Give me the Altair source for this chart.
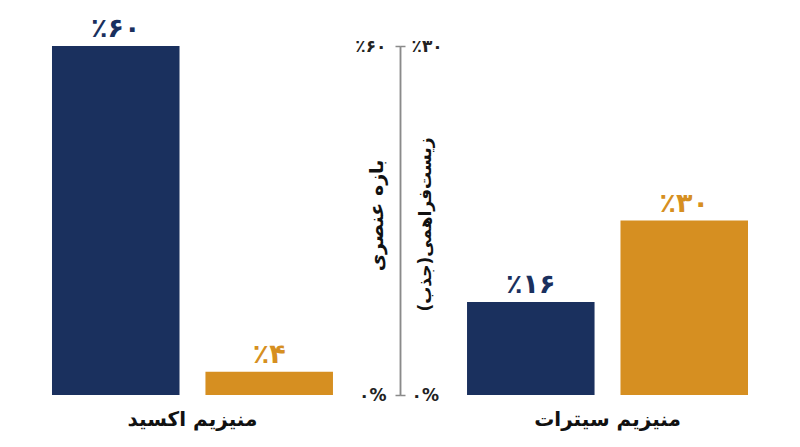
import altair as alt
import pandas as pd

# ---- data ----
groups = ["منیزیم اکسید", "منیزیم سیترات"]
series = ["بازه عنصری", "زیست‌فراهمی(جذب)"]
elemental = [60, 16]
bioavail = [4, 30]
colors = ["#1a305e", "#d68f21"]

FA = str.maketrans("0123456789", "۰۱۲۳۴۵۶۷۸۹")

def fa_pct(v):
    return "٪" + str(v).translate(FA)

rows = []
for g, e, b in zip(groups, elemental, bioavail):
    rows.append({"group": g, "series": series[0], "value": e, "label": fa_pct(e)})
    rows.append({"group": g, "series": series[1], "value": b, "label": fa_pct(b)})
df = pd.DataFrame(rows)

FONT = "DejaVu Sans"
W, H = 784, 349
MID = W / 2

x_enc = alt.X("group:N", sort=groups,
              scale=alt.Scale(paddingInner=0.323, paddingOuter=0.106),
              axis=alt.Axis(title=None, domain=False, ticks=False, labelAngle=0,
                            labelFontSize=20, labelFontWeight="bold", labelColor="#111111",
                            labelFont=FONT, labelPadding=14))
xoff = alt.XOffset("series:N", sort=series,
                   scale=alt.Scale(paddingInner=0.169, paddingOuter=0))
color = alt.Color("series:N", sort=series,
                  scale=alt.Scale(domain=series, range=colors), legend=None)

yscale = alt.Scale(domain=[0, 60], nice=False)

left_axis = alt.Axis(
    orient="left", offset=-MID, values=[0, 60], grid=False,
    labelExpr="datum.value == 60 ? '٪۶۰' : '۰%'",
    labelFont=FONT, labelFontSize=17, labelFontWeight="bold", labelColor="#222222",
    labelPadding=9, tickSize=5, tickColor="#8a8a8a", tickWidth=1.5,
    domainColor="#8a8a8a", domainWidth=1.5,
    title=series[0], titleFont=FONT, titleFontSize=19, titleFontWeight="bold",
    titleColor="#111111", titleAngle=270, titleAlign="center", titleBaseline="middle",
    titleX=-24, titleY=169,
)
right_axis = alt.Axis(
    orient="right", offset=-MID, values=[0, 60], grid=False,
    labelExpr="datum.value == 60 ? '٪۳۰' : '۰%'",
    labelFont=FONT, labelFontSize=17, labelFontWeight="bold", labelColor="#222222",
    labelPadding=6, tickSize=5, tickColor="#8a8a8a", tickWidth=1.5,
    domainColor="#8a8a8a", domainWidth=1.5,
    title=series[1], titleFont=FONT, titleFontSize=17, titleFontWeight="bold",
    titleColor="#111111", titleAngle=270, titleAlign="center", titleBaseline="middle",
    titleX=25, titleY=178,
)

base = alt.Chart(df)

bars = base.mark_bar().encode(
    x=x_enc, xOffset=xoff, color=color,
    y=alt.Y("value:Q", scale=yscale, axis=left_axis),
)

labels = base.mark_text(dy=-17, fontSize=27, fontWeight="bold", font=FONT,
                        baseline="middle").encode(
    x=x_enc, xOffset=xoff, color=color,
    y=alt.Y("value:Q", scale=yscale, axis=right_axis),
    text="label:N",
)

chart = alt.layer(bars, labels).resolve_axis(y="independent").properties(
    width=W, height=H,
    autosize=alt.AutoSizeParams(type="none"),
    padding={"left": 0, "top": 38, "right": 0, "bottom": 50},
).configure(background="white").configure_view(stroke=None)

chart.save("out.html", embed_options={"renderer": "svg", "actions": False})
